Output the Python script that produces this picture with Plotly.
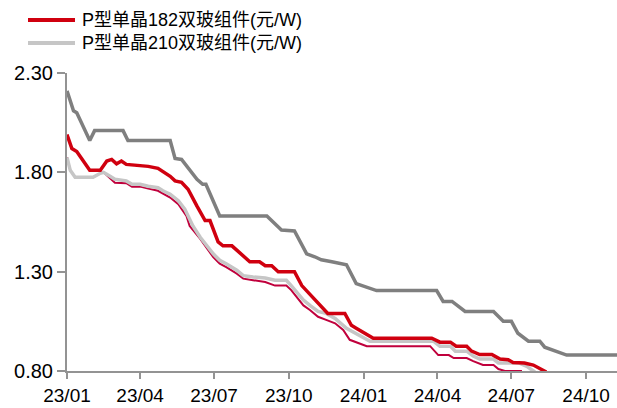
import plotly.graph_objects as go

# Module price series (CNY/W), breakpoints of each weekly price path
dark_dates = ["2023-01-01", "2023-01-09", "2023-01-13", "2023-01-29", "2023-02-04", "2023-03-11",
              "2023-03-17", "2023-05-08", "2023-05-14", "2023-05-22", "2023-06-10", "2023-06-17",
              "2023-06-21", "2023-07-08", "2023-09-04", "2023-09-22", "2023-10-08", "2023-10-23",
              "2023-11-02", "2023-11-10", "2023-11-23", "2023-12-11", "2023-12-23", "2024-01-05",
              "2024-01-17", "2024-03-31", "2024-04-08", "2024-04-19", "2024-05-05", "2024-06-09",
              "2024-06-21", "2024-07-01", "2024-07-09", "2024-07-22", "2024-08-05", "2024-08-11",
              "2024-08-26", "2024-09-07", "2024-11-08"]
dark_vals = [2.21, 2.11, 2.10, 1.96, 2.01, 2.01,
             1.96, 1.96, 1.87, 1.865, 1.765, 1.74,
             1.74, 1.58, 1.58, 1.51, 1.505, 1.39,
             1.375, 1.36, 1.35, 1.335, 1.24, 1.223,
             1.205, 1.205, 1.15, 1.15, 1.10, 1.10,
             1.05, 1.05, 0.99, 0.95, 0.95, 0.92,
             0.897, 0.88, 0.88]

p182_dates = ["2023-01-01", "2023-01-07", "2023-01-13", "2023-01-29", "2023-02-11", "2023-02-19",
              "2023-02-25", "2023-03-03", "2023-03-09", "2023-03-15", "2023-04-11", "2023-04-23",
              "2023-05-08", "2023-05-14", "2023-05-22", "2023-05-30", "2023-06-10", "2023-06-14",
              "2023-06-20", "2023-06-26", "2023-07-06", "2023-07-12", "2023-07-23", "2023-08-14",
              "2023-08-26", "2023-09-02", "2023-09-10", "2023-09-18", "2023-10-08", "2023-10-17",
              "2023-10-31", "2023-11-18", "2023-12-09", "2023-12-17", "2023-12-23", "2024-01-13",
              "2024-03-25", "2024-04-04", "2024-04-17", "2024-04-24", "2024-05-07", "2024-05-13",
              "2024-05-23", "2024-06-07", "2024-06-17", "2024-06-27", "2024-07-03", "2024-07-17",
              "2024-07-28", "2024-08-05", "2024-08-13"]
p182_vals = [1.99, 1.92, 1.905, 1.81, 1.81, 1.857,
             1.865, 1.843, 1.857, 1.84, 1.83, 1.82,
             1.78, 1.757, 1.75, 1.715, 1.63, 1.60,
             1.557, 1.557, 1.45, 1.43, 1.43, 1.35,
             1.35, 1.33, 1.33, 1.30, 1.30, 1.23,
             1.17, 1.09, 1.09, 1.03, 1.015, 0.965,
             0.965, 0.945, 0.945, 0.925, 0.925, 0.90,
             0.883, 0.883, 0.86, 0.857, 0.843, 0.84,
             0.83, 0.815, 0.795]

p210_dates = ["2023-01-01", "2023-01-05", "2023-01-11", "2023-02-02", "2023-02-11", "2023-02-15",
              "2023-02-23", "2023-03-01", "2023-03-15", "2023-03-22", "2023-04-01", "2023-04-11",
              "2023-04-23", "2023-04-29", "2023-05-08", "2023-05-18", "2023-05-26", "2023-06-05",
              "2023-06-14", "2023-06-20", "2023-06-30", "2023-07-08", "2023-07-16", "2023-07-29",
              "2023-08-06", "2023-08-18", "2023-09-02", "2023-09-14", "2023-09-28", "2023-10-04",
              "2023-10-19", "2023-10-27", "2023-11-06", "2023-11-16", "2023-11-27", "2023-12-11",
              "2023-12-27", "2024-01-09", "2024-03-27", "2024-04-04", "2024-04-17", "2024-04-23",
              "2024-05-07", "2024-05-15", "2024-05-23", "2024-06-09", "2024-06-15", "2024-07-11",
              "2024-07-20", "2024-07-24", "2024-07-30"]
p210_vals = [1.875, 1.81, 1.775, 1.775, 1.795, 1.80,
             1.78, 1.765, 1.757, 1.74, 1.74, 1.73,
             1.723, 1.707, 1.69, 1.657, 1.615, 1.53,
             1.473, 1.44, 1.39, 1.357, 1.34, 1.307,
             1.28, 1.273, 1.268, 1.257, 1.257, 1.23,
             1.157, 1.13, 1.10, 1.09, 1.065, 1.015,
             0.98, 0.95, 0.95, 0.925, 0.925, 0.90,
             0.90, 0.875, 0.86, 0.86, 0.84, 0.84,
             0.823, 0.81, 0.795]

crim_dates = ["2023-01-01", "2023-01-05", "2023-01-11", "2023-02-02", "2023-02-11", "2023-02-15",
              "2023-03-01", "2023-03-15", "2023-03-22", "2023-04-01", "2023-04-11", "2023-04-23",
              "2023-05-08", "2023-05-18", "2023-05-28", "2023-06-01", "2023-06-14", "2023-06-20",
              "2023-06-30", "2023-07-08", "2023-07-16", "2023-07-29", "2023-08-06", "2023-08-18",
              "2023-09-02", "2023-09-14", "2023-09-28", "2023-10-04", "2023-10-19", "2023-10-27",
              "2023-11-06", "2023-11-16", "2023-11-27", "2023-12-07", "2023-12-15", "2024-01-05",
              "2024-03-23", "2024-04-02", "2024-04-15", "2024-04-21", "2024-05-07", "2024-05-15",
              "2024-05-27", "2024-06-09", "2024-06-15", "2024-06-23", "2024-07-14"]
crim_vals = [1.875, 1.81, 1.775, 1.775, 1.795, 1.80,
             1.748, 1.745, 1.728, 1.728, 1.718, 1.707,
             1.673, 1.64, 1.58, 1.53, 1.465, 1.43,
             1.373, 1.34, 1.323, 1.29, 1.265, 1.257,
             1.248, 1.23, 1.23, 1.207, 1.13, 1.107,
             1.073, 1.057, 1.04, 1.007, 0.957, 0.925,
             0.925, 0.88, 0.88, 0.865, 0.865, 0.85,
             0.83, 0.83, 0.81, 0.80, 0.80]

legend_names = ["P型单晶182双玻组件(元/W)", "P型单晶210双玻组件(元/W)"]
y_ticks = [0.80, 1.30, 1.80, 2.30]
x_ticks = ["2023-01-01", "2023-04-01", "2023-07-01", "2023-10-01",
           "2024-01-01", "2024-04-01", "2024-07-01", "2024-10-01"]

RED = "#D0000F"
LIGHT = "#C6C6C6"
DARK = "#7F7F7F"
CRIMSON = "#C0003C"
AXIS = "#939393"
FONT = "Arial, Liberation Sans, Noto Sans CJK SC, sans-serif"

fig = go.Figure()
fig.add_trace(go.Scatter(x=crim_dates, y=crim_vals, mode="lines",
                         line=dict(color=CRIMSON, width=2), showlegend=False))
fig.add_trace(go.Scatter(x=p210_dates, y=p210_vals, mode="lines", name=legend_names[1],
                         line=dict(color=LIGHT, width=3.5), showlegend=False))
fig.add_trace(go.Scatter(x=p182_dates, y=p182_vals, mode="lines", name=legend_names[0],
                         line=dict(color=RED, width=3.5), showlegend=False))
fig.add_trace(go.Scatter(x=dark_dates, y=dark_vals, mode="lines",
                         line=dict(color=DARK, width=3.5), showlegend=False))

# Legend drawn as line samples plus labels above the plot area
plot_w, plot_h, m_l, m_t = 550, 298, 67, 73
def px_x(px):
    return (px - m_l) / plot_w
def px_y(py):
    return (m_t + plot_h - py) / plot_h

for i, (name, col) in enumerate(zip(legend_names, [RED, LIGHT])):
    yy = px_y(20 + 23 * i)
    fig.add_shape(type="line", xref="paper", yref="paper",
                  x0=px_x(28), x1=px_x(75), y0=yy, y1=yy,
                  line=dict(color=col, width=4))
    fig.add_annotation(xref="paper", yref="paper", x=px_x(80), y=yy,
                       xanchor="left", yanchor="middle", text=name, showarrow=False,
                       font=dict(family=FONT, size=18, color="#000000"))

fig.update_layout(
    width=617, height=408,
    margin=dict(l=m_l, r=0, t=m_t, b=408 - m_t - plot_h),
    paper_bgcolor="white", plot_bgcolor="white",
    showlegend=False,
    font=dict(family=FONT, size=20, color="#000000"),
)
fig.update_xaxes(
    type="date", range=["2023-01-01", "2024-11-08"],
    tickvals=x_ticks, tickformat="%y/%m",
    showline=True, linecolor=AXIS, linewidth=2,
    ticks="outside", ticklen=6, tickwidth=2, tickcolor=AXIS,
    automargin=False,
    showgrid=False, zeroline=False,
    tickfont=dict(family=FONT, size=19, color="#000000"),
)
fig.update_yaxes(
    range=[0.80, 2.30], tickvals=y_ticks, ticktext=[f"{v:.2f}" for v in y_ticks],
    showline=True, linecolor=AXIS, linewidth=2,
    ticks="outside", ticklen=8, tickwidth=2, tickcolor=AXIS,
    automargin=False,
    showgrid=False, zeroline=False,
    tickfont=dict(family=FONT, size=20, color="#000000"),
)

fig.write_html("out.html")
